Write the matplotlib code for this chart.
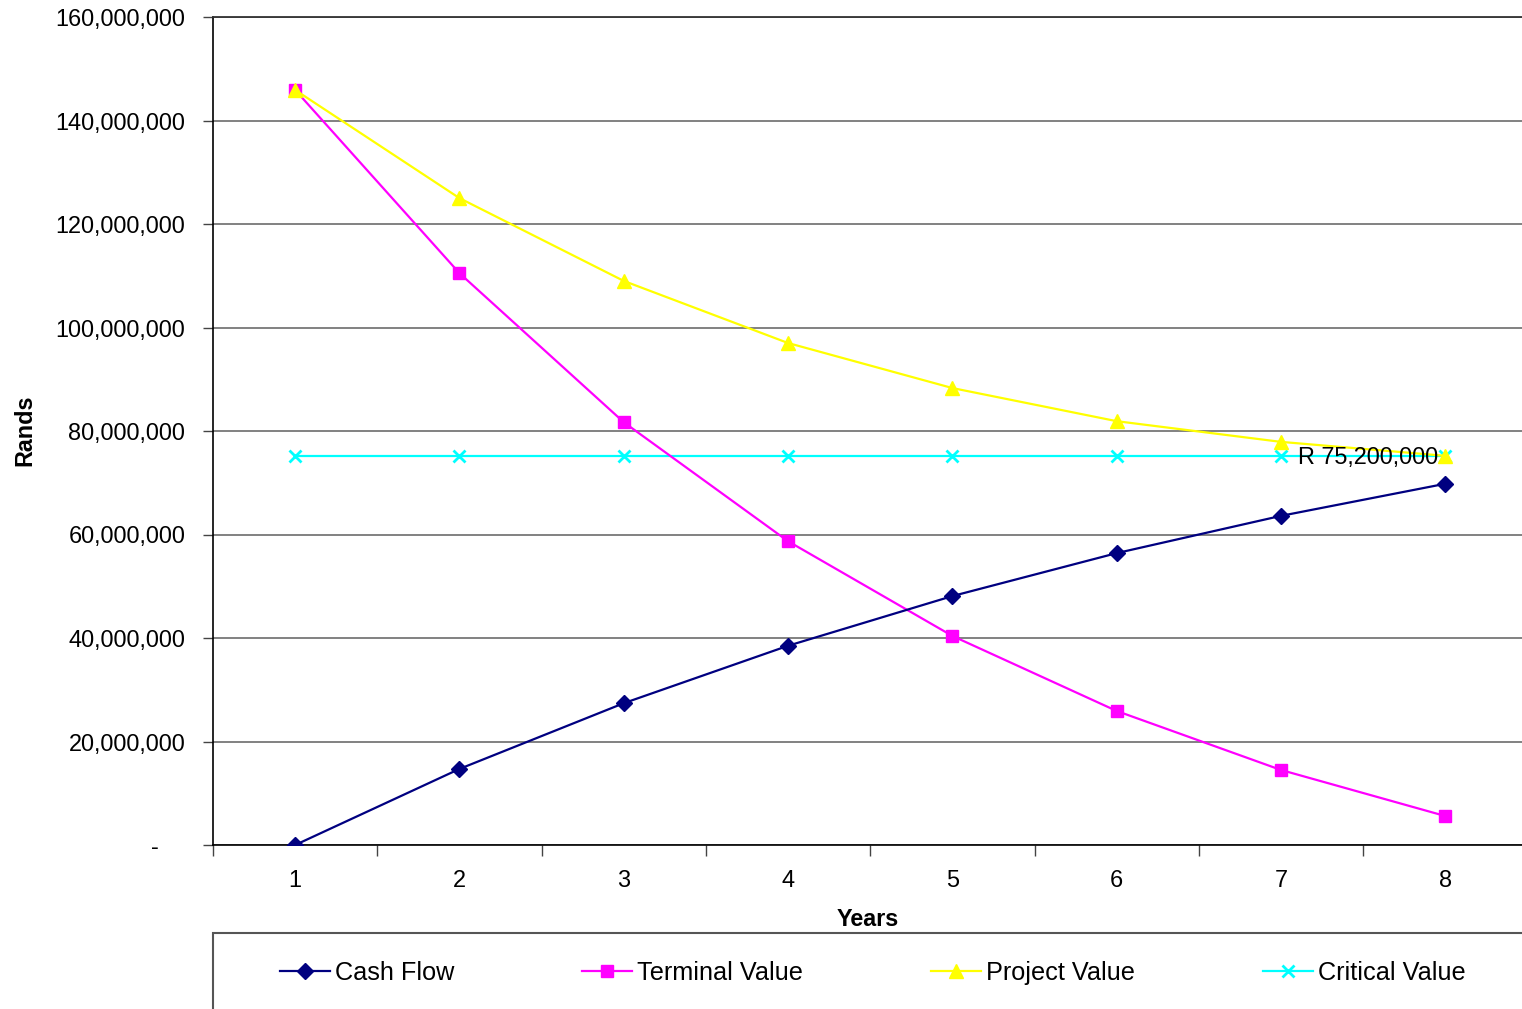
import matplotlib
matplotlib.use("Agg")
import matplotlib.pyplot as plt
from matplotlib.patches import Rectangle
from matplotlib.ticker import FuncFormatter, FixedLocator

years = [1, 2, 3, 4, 5, 6, 7, 8]
cash_flow = [0, 14.7e6, 27.4e6, 38.5e6, 48.1e6, 56.4e6, 63.6e6, 69.8e6]
terminal_value = [145.9e6, 110.5e6, 81.7e6, 58.7e6, 40.4e6, 25.9e6, 14.5e6, 5.6e6]
project_value = [145.9e6, 125.0e6, 109.0e6, 97.0e6, 88.3e6, 81.9e6, 77.9e6, 75.2e6]
critical_value = [75.2e6] * 8
annotation_text = "R 75,200,000"

plt.rcParams['font.family'] = ['Liberation Sans', 'DejaVu Sans']

W, H = 1522, 1009
fig = plt.figure(figsize=(W / 100, H / 100), dpi=100)
left, right, top, bottom = 213, 1522, 17, 845
ax = fig.add_axes([left / W, 1 - bottom / H, (right - left) / W, (bottom - top) / H])

spacing = 164.3
ax.set_xlim(0.5, 0.5 + (right - left) / spacing)
ax.set_ylim(0, 160e6)

ax.plot(years, cash_flow, color='#000080', lw=1.6, marker='D', ms=8, label='Cash Flow', zorder=4)
ax.plot(years, terminal_value, color='#FF00FF', lw=1.6, marker='s', ms=9, label='Terminal Value', zorder=3)
ax.plot(years, project_value, color='#FFFF00', lw=1.6, marker='^', ms=10, label='Project Value', zorder=3)
ax.plot(years, critical_value, color='#00FFFF', lw=1.6, marker='x', ms=9, mew=2, label='Critical Value', zorder=2)

ax.annotate(annotation_text, xy=(7, critical_value[6]), xytext=(17, -2), textcoords='offset pixels',
            ha='left', va='center', fontsize=16.9, color='black', zorder=6)

# grid
ax.set_yticks([i * 20e6 for i in range(9)])
ax.yaxis.grid(True, color='#777777', lw=1.3)
ax.set_axisbelow(True)
ax.yaxis.set_major_formatter(FuncFormatter(lambda v, p: "-    " if v == 0 else f"{v:,.0f}"))
ax.tick_params(axis='y', length=7, width=1, direction='out', labelsize=16.9, pad=13, color='#444444')

ax.set_xticks(years)
ax.set_xticklabels([str(y) for y in years])
ax.xaxis.set_minor_locator(FixedLocator([0.5 + i for i in range(9)]))
ax.tick_params(axis='x', which='major', length=0, labelsize=16.9, pad=17)
ax.tick_params(axis='x', which='minor', length=8, width=1, direction='out', color='#444444')

ax.spines['right'].set_visible(False)
ax.spines['top'].set_color('#333333')
ax.spines['top'].set_linewidth(1.3)
ax.spines['left'].set_color('black')
ax.spines['bottom'].set_color('black')
ax.spines['left'].set_linewidth(1.2)
ax.spines['bottom'].set_linewidth(1.2)

ax.set_xlabel('Years', fontsize=16.8, fontweight='bold', labelpad=12)
fig.text(25 / W, 1 - 430 / H, 'Rands', rotation=90, fontsize=16.8, fontweight='bold', ha='center', va='center')

# legend box
rect = Rectangle((213 / W, -0.2), 1.0, 0.2 + (H - 933) / H, transform=fig.transFigure,
                 fill=False, edgecolor='#555555', lw=1.5, clip_on=False)
fig.patches.append(rect)

fs_leg = 18.2
fpx = fs_leg * 100 / 72
leg = fig.legend(loc='center left', bbox_to_anchor=(280 / W, 1 - 973 / H), ncol=4, frameon=False,
                 fontsize=fs_leg, handlelength=50 / fpx, handletextpad=5 / fpx,
                 columnspacing=128 / fpx, borderpad=0, borderaxespad=0)

fig.savefig('out.png', dpi=100)
